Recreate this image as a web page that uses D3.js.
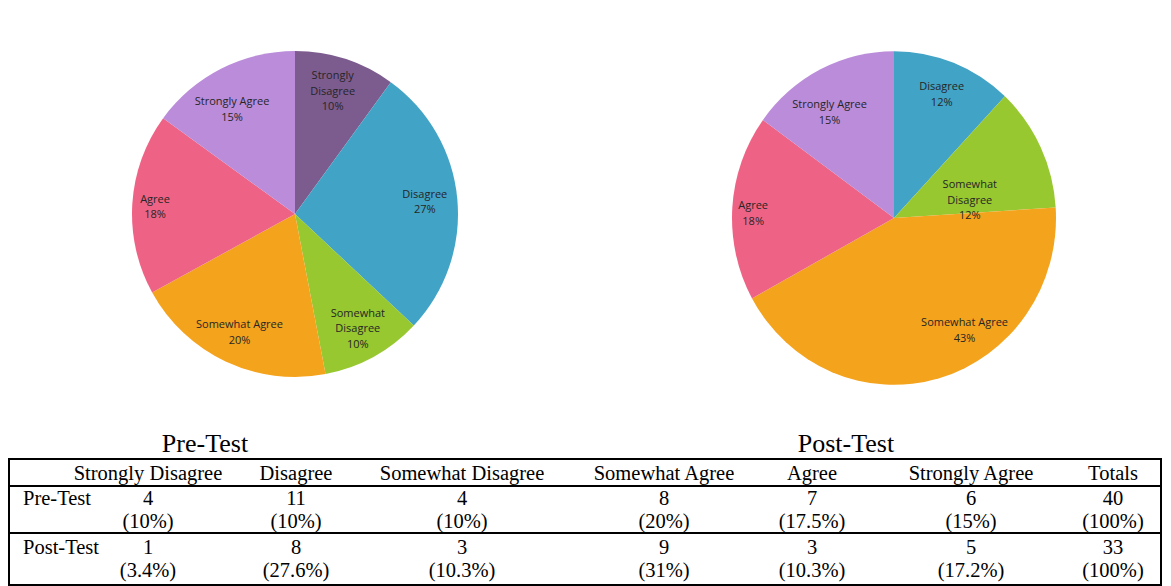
<!DOCTYPE html>
<html>
<head>
<meta charset="utf-8">
<script src="https://cdn.jsdelivr.net/npm/d3@7"></script>
<style>
  body { margin: 0; background: #fff; }
  svg { display: block; }
</style>
</head>
<body>
<div id="chart-area"></div>
<script>
// categories and values
var categories = ["Strongly Disagree", "Disagree", "Somewhat Disagree", "Somewhat Agree", "Agree", "Strongly Agree"];
var prePiePct = [10, 27, 10, 20, 18, 15];
var postPiePct = [0, 12, 12, 43, 18, 15];
var preCounts = [4, 11, 4, 8, 7, 6];
var prePct = ["10%", "10%", "10%", "20%", "17.5%", "15%"];
var postCounts = [1, 8, 3, 9, 3, 5];
var postPct = ["3.4%", "27.6%", "10.3%", "31%", "10.3%", "17.2%"];
var totalsCounts = [40, 33];
var totalsPct = ["100%", "100%"];
var rowNames = ["Pre-Test", "Post-Test"];
var tableTitles = ["Pre-Test", "Post-Test"];

var w = 1171, h = 586;

var color = d3.scaleOrdinal()
	.domain(categories)
	.range(["#7c5b8f", "#41a3c5", "#97c82f", "#f4a31c", "#ee6385", "#ba8cd9"]);

// label line breaks inside the slices
var labelLines = {
	"Strongly Disagree": ["Strongly", "Disagree"],
	"Disagree": ["Disagree"],
	"Somewhat Disagree": ["Somewhat", "Disagree"],
	"Somewhat Agree": ["Somewhat Agree"],
	"Agree": ["Agree"],
	"Strongly Agree": ["Strongly Agree"]
};

var svg = d3.select("#chart-area").append("svg")
	.attr("width", w)
	.attr("height", h);

var pie = d3.pie().sort(null).value(function(d) { return d.value; });

function drawPie(values, cx, cy, r, sy, labelFix) {
	var data = categories.map(function(c, i) { return {name: c, value: values[i]}; });
	var arcs = pie(data).filter(function(d) { return d.data.value > 0; });
	var arc = d3.arc().innerRadius(0).outerRadius(r);

	var g = svg.append("g")
		.attr("transform", "translate(" + cx + "," + cy + ")");

	g.append("g")
		.attr("transform", "scale(1," + sy + ")")
		.selectAll("path")
		.data(arcs)
		.enter().append("path")
		.attr("d", arc)
		.attr("fill", function(d) { return color(d.data.name); });

	g.selectAll("text.lbl")
		.data(arcs)
		.enter().append("text")
		.attr("class", "lbl")
		.attr("font-family", "'Open Sans', sans-serif")
		.attr("font-size", "11px")
		.attr("fill", "#262626")
		.attr("text-anchor", "middle")
		.each(function(d) {
			var mid = (d.startAngle + d.endAngle) / 2;
			var lr = r * 0.8;
			var fix = labelFix[d.data.name];
			if (fix) { mid = fix.angle * Math.PI / 180; lr = r * fix.k; }
			var x = Math.sin(mid) * lr;
			var y = -Math.cos(mid) * lr * sy;
			var lines = labelLines[d.data.name].concat([d.data.value + "%"]);
			var t = d3.select(this);
			var y0 = y - (lines.length - 1) * 15.5 / 2 + 4;
			lines.forEach(function(l, i) {
				t.append("tspan")
					.attr("x", x)
					.attr("y", y0 + i * 15.5)
					.text(l);
			});
		});
}

drawPie(prePiePct, 295, 214, 163, 1, {
	"Strongly Disagree": {angle: 17, k: 0.79},
	"Agree": {angle: 273, k: 0.86},
	"Strongly Agree": {angle: 329, k: 0.75}
});
drawPie(postPiePct, 894, 218, 162, 1.03, {
	"Somewhat Disagree": {angle: 77, k: 0.48},
	"Somewhat Agree": {angle: 147, k: 0.8},
	"Agree": {angle: 272, k: 0.87},
	"Strongly Agree": {angle: 328, k: 0.75}
});

// table
var serif = "'Liberation Serif', 'Times New Roman', serif";
var colX = [148, 296, 462, 664, 812, 971, 1113];
var tLeft = 9, tRight = 1161;
var lineY = [459, 486, 533, 585];

svg.selectAll("text.title")
	.data(tableTitles)
	.enter().append("text")
	.attr("class", "title")
	.attr("x", function(d, i) { return i === 0 ? 205 : 846; })
	.attr("y", 452)
	.attr("text-anchor", "middle")
	.attr("font-family", serif)
	.attr("font-size", "26px")
	.attr("fill", "#000")
	.text(function(d) { return d; });

svg.selectAll("line.rule")
	.data(lineY)
	.enter().append("line")
	.attr("class", "rule")
	.attr("x1", tLeft).attr("x2", tRight)
	.attr("y1", function(d) { return d; })
	.attr("y2", function(d) { return d; })
	.attr("stroke", "#000")
	.attr("stroke-width", 2);

[tLeft, tRight].forEach(function(x) {
	svg.append("line")
		.attr("x1", x).attr("x2", x)
		.attr("y1", lineY[0] - 1).attr("y2", lineY[3] + 1)
		.attr("stroke", "#000")
		.attr("stroke-width", 2);
});

var headers = categories.concat(["Totals"]);
svg.selectAll("text.hdr")
	.data(headers)
	.enter().append("text")
	.attr("class", "hdr")
	.attr("x", function(d, i) { return colX[i]; })
	.attr("y", 480)
	.attr("text-anchor", "middle")
	.attr("font-family", serif)
	.attr("font-size", "20.5px")
	.text(function(d) { return d; });

var rows = [
	{name: rowNames[0], counts: preCounts.concat([totalsCounts[0]]), pct: prePct.concat([totalsPct[0]]), y: 505},
	{name: rowNames[1], counts: postCounts.concat([totalsCounts[1]]), pct: postPct.concat([totalsPct[1]]), y: 554}
];

rows.forEach(function(row) {
	var g = svg.append("g")
		.attr("font-family", serif)
		.attr("font-size", "20.5px");
	g.append("text")
		.attr("x", 23)
		.attr("y", row.y)
		.text(row.name);
	g.selectAll("text.n")
		.data(row.counts)
		.enter().append("text")
		.attr("class", "n")
		.attr("x", function(d, i) { return colX[i]; })
		.attr("y", row.y)
		.attr("text-anchor", "middle")
		.text(function(d) { return d; });
	g.selectAll("text.p")
		.data(row.pct)
		.enter().append("text")
		.attr("class", "p")
		.attr("x", function(d, i) { return colX[i]; })
		.attr("y", row.y + 23)
		.attr("text-anchor", "middle")
		.text(function(d) { return "(" + d + ")"; });
});
</script>
</body>
</html>
